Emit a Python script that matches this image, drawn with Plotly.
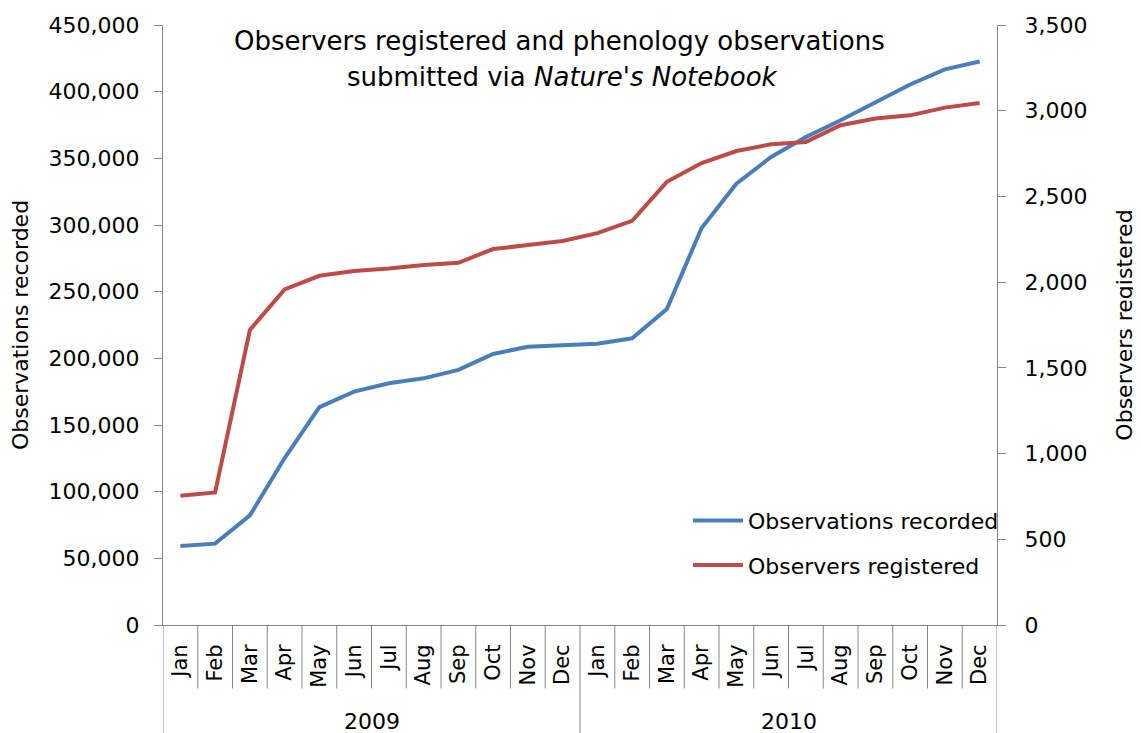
import plotly.graph_objects as go

months = ["Jan", "Feb", "Mar", "Apr", "May", "Jun", "Jul", "Aug", "Sep", "Oct", "Nov", "Dec"]
years = ["2009", "2010"]
month_labels = months * len(years)

observations = [59300, 61000, 82200, 125200, 163400, 175000, 181300, 185000, 191300, 203300, 208700, 210000,
                211000, 215000, 237000, 297800, 331000, 351000, 366000, 378500, 392000, 405400, 416700, 422600]
observers = [754, 773, 1721, 1958, 2037, 2065, 2080, 2100, 2113, 2193, 2216, 2240,
             2286, 2358, 2585, 2695, 2765, 2804, 2818, 2915, 2954, 2973, 3018, 3045]

x = list(range(len(month_labels)))
FONT = "DejaVu Sans"
AX = "#868686"

fig = go.Figure()
fig.add_trace(go.Scatter(x=x, y=observations, name="Observations recorded", mode="lines",
                         line=dict(color="#4A7EBB", width=4), legendgroup="a", yaxis="y"))
fig.add_trace(go.Scatter(x=x, y=observers, name="Observers registered", mode="lines",
                         line=dict(color="#BE4B48", width=4), legendgroup="b", yaxis="y2"))

shapes = []
n = len(month_labels)
for k in range(n + 1):
    bx = k - 0.5
    full = (k % len(months) == 0)
    shapes.append(dict(type="line", xref="x", yref="paper", x0=bx, x1=bx,
                       y0=0, y1=-0.19 if full else -0.1057,
                       line=dict(color=AX, width=1)))

annotations = [
    dict(text="Observers registered and phenology observations", x=0.476, y=0.974,
         xref="paper", yref="paper", showarrow=False, xanchor="center", yanchor="middle",
         font=dict(family=FONT, size=26, color="black")),
    dict(text="submitted via <i>Nature's Notebook</i>", x=0.479, y=0.913,
         xref="paper", yref="paper", showarrow=False, xanchor="center", yanchor="middle",
         font=dict(family=FONT, size=26, color="black")),
]
for i, yr in enumerate(years):
    annotations.append(dict(text=yr, x=i * len(months) + (len(months) - 1) / 2, y=-0.16,
                            xref="x", yref="paper", showarrow=False, yanchor="middle",
                            font=dict(family=FONT, size=22, color="black")))

fig.update_layout(
    template="none",
    width=1133, height=725,
    margin=dict(l=155, r=144, t=16.5, b=107.5, autoexpand=False),
    paper_bgcolor="white", plot_bgcolor="white",
    font=dict(family=FONT, size=22, color="black"),
    shapes=shapes, annotations=annotations,
    legend=dict(x=0.6295, y=0.209, xanchor="left", yanchor="top", bgcolor="rgba(0,0,0,0)",
                font=dict(family=FONT, size=22, color="black"), tracegroupgap=13,
                traceorder="grouped", itemwidth=50, borderwidth=0),
    xaxis=dict(range=[-0.5, n - 0.5], tickmode="array", tickvals=x, ticktext=month_labels,
               tickangle=-90, showline=True, linecolor=AX, linewidth=1, showgrid=False,
               zeroline=False, ticks="", ticklabelstandoff=10, automargin=False,
               tickfont=dict(family=FONT, size=21, color="black")),
    yaxis=dict(range=[0, 450000], dtick=50000, tickformat=",", showline=True, linecolor=AX,
               linewidth=1, ticks="outside", ticklen=8, tickcolor=AX, showgrid=False,
               zeroline=False, ticklabelstandoff=10, automargin=False,
               title=dict(text="Observations recorded", standoff=14,
                          font=dict(family=FONT, size=22, color="black"))),
    yaxis2=dict(range=[0, 3500], dtick=500, tickformat=",", overlaying="y", side="right",
                showline=True, linecolor=AX, linewidth=1, ticks="outside", ticklen=8,
                tickcolor=AX, showgrid=False, zeroline=False, ticklabelstandoff=14,
                automargin=False,
                title=dict(text="Observers registered", standoff=30,
                           font=dict(family=FONT, size=22, color="black"))),
    showlegend=True,
)

fig.write_html("out.html")
